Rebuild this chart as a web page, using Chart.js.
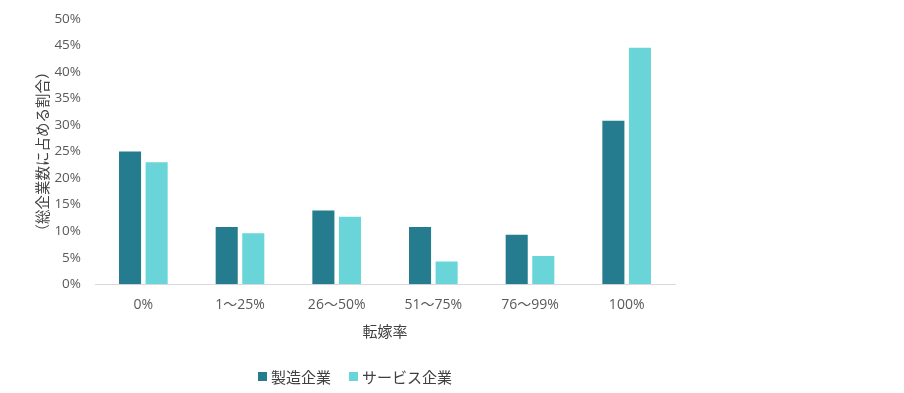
<!DOCTYPE html>
<html>
<head>
<meta charset="utf-8">
<script src="https://cdn.jsdelivr.net/npm/chart.js@4"></script>
<style>
  html, body { margin: 0; padding: 0; background: #fff; }
  #wrap { position: relative; width: 904px; height: 393px; }
  #legend {
    position: absolute; top: 366px; left: 258px;
    display: flex; align-items: center;
    font: 15px 'Open Sans', 'Noto Sans CJK JP', sans-serif; color: #404040;
  }
  #legend span.box { display: inline-block; width: 9px; height: 9px; margin-right: 4px; }
  #legend span.item { display: flex; align-items: center; margin-right: 18px; }
</style>
</head>
<body>
<div id="wrap">
  <canvas id="chart" width="904" height="393"></canvas>
  <div id="legend"></div>
</div>
<script>
// data
const categories = ['0%', '1～25%', '26～50%', '51～75%', '76～99%', '100%'];
const seriesNames = ['製造企業', 'サービス企業'];
const manufacturing = [25.0, 10.8, 13.9, 10.8, 9.3, 30.8];
const services = [23.0, 9.6, 12.7, 4.3, 5.3, 44.6];
const yTicks = [0, 5, 10, 15, 20, 25, 30, 35, 40, 45, 50];
const colors = ['#267c8f', '#6ad5d9'];

const font = "'Open Sans', 'Noto Sans CJK JP', sans-serif";

// legend in html
const legend = document.getElementById('legend');
seriesNames.forEach((name, i) => {
    const item = document.createElement('span');
    item.className = 'item';
    item.innerHTML = `<span class="box" style="background:${colors[i]}"></span>${name}`;
    legend.appendChild(item);
});

new Chart(document.getElementById('chart'), {
    type: 'bar',
    data: {
        labels: categories,
        datasets: [
            { label: seriesNames[0], data: manufacturing, backgroundColor: colors[0] },
            { label: seriesNames[1], data: services, backgroundColor: colors[1] }
        ]
    },
    options: {
        responsive: false,
        animation: false,
        layout: { padding: { left: 31, right: 229, top: 19, bottom: 47 } },
        datasets: { bar: { categoryPercentage: 0.55, barPercentage: 0.83 } },
        scales: {
            x: {
                grid: { display: false },
                border: { display: true, color: '#d9d9d9' },
                ticks: { color: '#595959', font: { family: font, size: 14 }, padding: 4 },
                title: { display: true, text: '転嫁率', color: '#404040', font: { family: font, size: 15 }, padding: { top: 7 } }
            },
            y: {
                min: 0, max: 50,
                afterBuildTicks: axis => { axis.ticks = yTicks.map(v => ({ value: v })); },
                afterFit: axis => { axis.width = 64; axis.paddingTop = 0; axis.paddingBottom = 0; },
                grid: { display: false, drawTicks: false },
                border: { display: false },
                ticks: { color: '#595959', font: { family: font, size: 13.5 }, padding: 14, callback: v => v + '%' },
                title: { display: true, text: '（総企業数に占める割合）', color: '#404040', font: { family: font, size: 14.5 }, padding: { bottom: 0 } }
            }
        },
        plugins: {
            legend: { display: false },
            tooltip: { enabled: false }
        }
    }
});
</script>
</body>
</html>
